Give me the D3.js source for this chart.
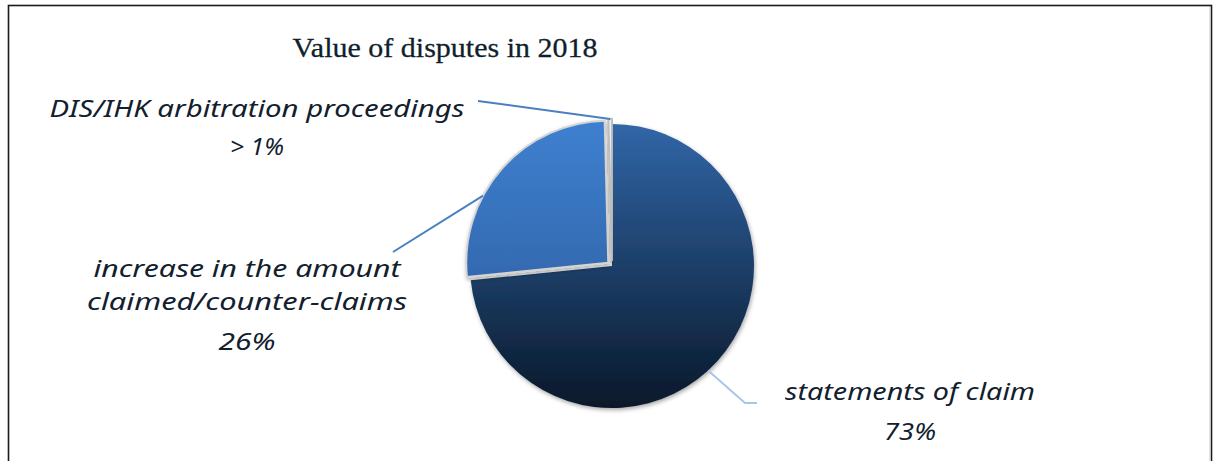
<!DOCTYPE html>
<html>
<head>
<meta charset="utf-8">
<script src="https://cdn.jsdelivr.net/npm/d3@7"></script>
<style>
  html, body { margin: 0; padding: 0; background: #ffffff; }
  svg { display: block; }
</style>
</head>
<body>
<svg id="chart" width="1216" height="461"></svg>
<script>
// ---- data ----
const categories = ["statements of claim", "increase in the amount claimed/counter-claims", "DIS/IHK arbitration proceedings"];
const values = [73.4, 26.2, 0.4];
const valueLabels = ["73%", "26%", "> 1%"];
const labelLines = [["statements of claim"], ["increase in the amount", "claimed/counter-claims"], ["DIS/IHK arbitration proceedings"]];
const title = "Value of disputes in 2018";

// ---- layout ----
const W = 1216, H = 461;
const cx = 612, cy = 266, R = 142;
const explode = [0, 5, 5];

const svg = d3.select("#chart");
const defs = svg.append("defs");

// gradients (local coordinates of the pie group)
function grad(id, c1, c2) {
  const g = defs.append("linearGradient").attr("id", id)
    .attr("gradientUnits", "userSpaceOnUse")
    .attr("x1", 0).attr("y1", -R).attr("x2", 0).attr("y2", R);
  g.append("stop").attr("offset", "0%").attr("stop-color", c1);
  g.append("stop").attr("offset", "100%").attr("stop-color", c2);
}
grad("g0", "#3166a8", "#091829");
grad("g1", "#3e80d0", "#2a5896");
grad("g2", "#eef2f8", "#c8d4e2");

const f = defs.append("filter").attr("id", "shadow")
  .attr("x", "-20%").attr("y", "-20%").attr("width", "140%").attr("height", "140%");
f.append("feDropShadow").attr("dx", 1).attr("dy", 2).attr("stdDeviation", 2.2)
  .attr("flood-color", "#000").attr("flood-opacity", 0.35);

// frame
svg.append("rect").attr("x", 8.5).attr("y", 5.5).attr("width", 1203).attr("height", 470)
  .attr("fill", "#ffffff").attr("stroke", "#1a1a1a").attr("stroke-width", 1.6);
svg.append("line").attr("x1", 1210).attr("x2", 1210).attr("y1", 7).attr("y2", 461)
  .attr("stroke", "#c8c8c8").attr("stroke-width", 1);

// title
svg.append("text").attr("x", 445).attr("y", 57)
  .attr("text-anchor", "middle")
  .attr("font-family", "'Liberation Serif', 'DejaVu Serif', serif")
  .attr("font-size", 28).attr("fill", "#0f1f2e")
  .attr("stroke", "#0f1f2e").attr("stroke-width", 0.3)
  .attr("textLength", 305).attr("lengthAdjust", "spacingAndGlyphs")
  .text(title);

// pie
const pie = d3.pie().sort(null).value(d => d).startAngle(0).endAngle(2 * Math.PI);
const arcs = pie(values);
const arc = d3.arc().innerRadius(0).outerRadius(R);

const g = svg.append("g").attr("transform", `translate(${cx},${cy})`);
const fills = ["url(#g0)", "url(#g1)", "url(#g2)"];
const strokes = ["none", "#d4d4d4", "#bdbdbd"];

g.selectAll("path.slice").data(arcs).join("path")
  .attr("class", "slice")
  .attr("transform", (d, i) => {
    const a = (d.startAngle + d.endAngle) / 2;
    return `translate(${Math.sin(a) * explode[i]},${-Math.cos(a) * explode[i]})`;
  })
  .attr("d", arc)
  .attr("fill", (d, i) => fills[i])
  .attr("stroke", (d, i) => strokes[i])
  .attr("stroke-width", 2)
  .attr("filter", "url(#shadow)");

// labels
const fontFam = "'Noto Sans', 'DejaVu Sans', sans-serif";
const txtColor = "#12202e";
const labelSpec = [
  { x: 910, ys: [400], vy: 440, widths: [250], vw: 52, lineColor: "#a8c6ec",
    pts: [[0, 0], [745, 403], [757, 403]] },
  { x: 247, ys: [277, 310], vy: 350, widths: [307, 320], vw: 57, lineColor: "#4a7fc1",
    pts: [[0, 0], [393, 252]] },
  { x: 257, ys: [117], vy: 155, widths: [415], vw: 54, lineColor: "#4a7fc1",
    pts: [[0, 0], [478, 101]] }
];

arcs.forEach((d, i) => {
  const s = labelSpec[i];
  const a = (d.startAngle + d.endAngle) / 2;
  let startPt;
  if (i === 0) {
    const ang = d.startAngle + (d.endAngle - d.startAngle) * 0.52;
    startPt = [cx + Math.sin(ang) * R, cy - Math.cos(ang) * R];
  } else if (i === 1) {
    const ang = d.startAngle + (d.endAngle - d.startAngle) * 0.36;
    const ex = explode[i];
    startPt = [cx + Math.sin(a) * ex + Math.sin(ang) * R, cy - Math.cos(a) * ex - Math.cos(ang) * R];
  } else {
    const ex = explode[i];
    startPt = [cx + Math.sin(a) * ex + Math.sin(a) * R, cy - Math.cos(a) * ex - Math.cos(a) * R];
  }
  const pts = [startPt].concat(s.pts.slice(1));
  svg.append("path")
    .attr("d", d3.line()(pts))
    .attr("fill", "none")
    .attr("stroke", s.lineColor)
    .attr("stroke-width", 2);

  labelLines[i].forEach((ln, j) => {
    svg.append("text").attr("x", s.x).attr("y", s.ys[j])
      .attr("text-anchor", "middle")
      .attr("font-family", fontFam).attr("font-style", "italic")
      .attr("font-size", 23).attr("fill", txtColor)
      .attr("textLength", s.widths[j]).attr("lengthAdjust", "spacingAndGlyphs")
      .text(ln);
  });
  svg.append("text").attr("x", s.x).attr("y", s.vy)
    .attr("text-anchor", "middle")
    .attr("font-family", fontFam).attr("font-style", "italic")
    .attr("font-size", 24).attr("fill", txtColor)
    .attr("textLength", s.vw).attr("lengthAdjust", "spacingAndGlyphs")
    .text(valueLabels[i]);
});
</script>
</body>
</html>
